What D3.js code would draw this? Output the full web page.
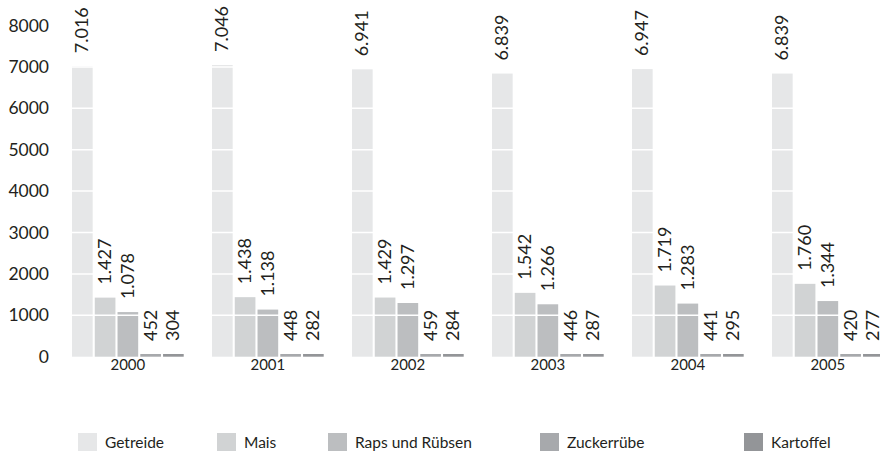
<!DOCTYPE html>
<html><head><meta charset="utf-8">
<script src="https://cdn.jsdelivr.net/npm/d3@7"></script>
<style>
html,body{margin:0;padding:0;background:#fff;}
text{font-family:Lato,"Open Sans",sans-serif;fill:#231f20;}
</style></head>
<body>
<svg id="c" width="880" height="463"></svg>
<script>
// ---- data ----
const years = ["2000","2001","2002","2003","2004","2005"];
const seriesNames = ["Getreide","Mais","Raps und Rübsen","Zuckerrübe","Kartoffel"];
const getreide  = [7016,7046,6941,6839,6947,6839];
const mais      = [1427,1438,1429,1542,1719,1760];
const raps      = [1078,1138,1297,1266,1283,1344];
const zuckerruebe = [452,448,459,446,441,420];
const kartoffel = [304,282,284,287,295,277];
// bar heights as drawn in the picture for the two smallest series
const zuckerruebeBar = [65,65,65,65,65,65];
const kartoffelBar   = [65,65,65,65,65,65];
const yTicks = [0,1000,2000,3000,4000,5000,6000,7000,8000];

// ---- layout ----
const colors = ["#e6e7e8","#d1d3d4","#bcbec0","#a7a9ac","#939598"];
const legendX = [78,217,328,540,744];

const labelVals = [getreide,mais,raps,zuckerruebe,kartoffel];
const barVals = [getreide,mais,raps,zuckerruebeBar,kartoffelBar];

const svg = d3.select("#c");
const y = d3.scaleLinear().domain([0,8000]).range([356.7,25.5]);
const x0 = d3.scaleBand().domain(years).range([72,883.7]).paddingInner(0.202).paddingOuter(0);
const x1 = d3.scaleBand().domain(d3.range(5)).range([0,x0.bandwidth()]).paddingInner(0.092).paddingOuter(0);
const de = d3.formatLocale({decimal:",",thousands:".",grouping:[3],currency:["","€"]});
const fmt = de.format(",d");

// y axis labels
const yAxis = d3.axisLeft(y).tickValues(yTicks).tickSize(0).tickPadding(0).tickFormat(d3.format("d"));
const ga = svg.append("g").attr("transform","translate(49,0)").call(yAxis);
ga.select(".domain").remove();
ga.selectAll("text").attr("font-size",17.5).attr("fill","#231f20")
  .style("font-family",'Lato,"Open Sans",sans-serif');

// bars
const groups = svg.append("g").selectAll("g").data(years).join("g")
  .attr("transform",d=>`translate(${x0(d)},0)`);
groups.each(function(yr,i){
  const g = d3.select(this);
  for(let s=0;s<5;s++){
    const v = barVals[s][i];
    g.append("rect").attr("x",x1(s)).attr("width",x1.bandwidth())
      .attr("y",y(v)).attr("height",y(0)-y(v)).attr("fill",colors[s]);
  }
  // white grid lines across the bars of this group
  g.selectAll("line.grid").data(yTicks.filter(d=>d>0)).join("line").attr("class","grid")
    .attr("x1",0).attr("x2",x0.bandwidth()).attr("y1",d=>y(d)).attr("y2",d=>y(d))
    .attr("stroke","#fff").attr("stroke-width",1.5);
});

// value labels
groups.each(function(yr,i){
  const g = d3.select(this);
  for(let s=0;s<5;s++){
    const top = y(barVals[s][i]);
    const cx = x1(s)+x1.bandwidth()/2;
    const ty = top-13;
    g.append("text").attr("transform",`translate(${cx+6},${ty}) rotate(-90)`)
      .attr("text-anchor","start").attr("font-size",18).text(fmt(labelVals[s][i]));
  }
});

// year labels
svg.append("g").selectAll("text").data(years).join("text")
  .attr("x",d=>x0(d)+x0.bandwidth()/2).attr("y",370)
  .attr("text-anchor","middle").attr("font-size",15).text(d=>d);

// legend
const lg = svg.append("g").selectAll("g").data(seriesNames).join("g")
  .attr("transform",(d,i)=>`translate(${legendX[i]},0)`);
lg.append("rect").attr("x",0).attr("y",433).attr("width",19).attr("height",18).attr("fill",(d,i)=>colors[i]);
lg.append("text").attr("x",27).attr("y",448).attr("font-size",15.5).text(d=>d);
</script>
</body></html>
